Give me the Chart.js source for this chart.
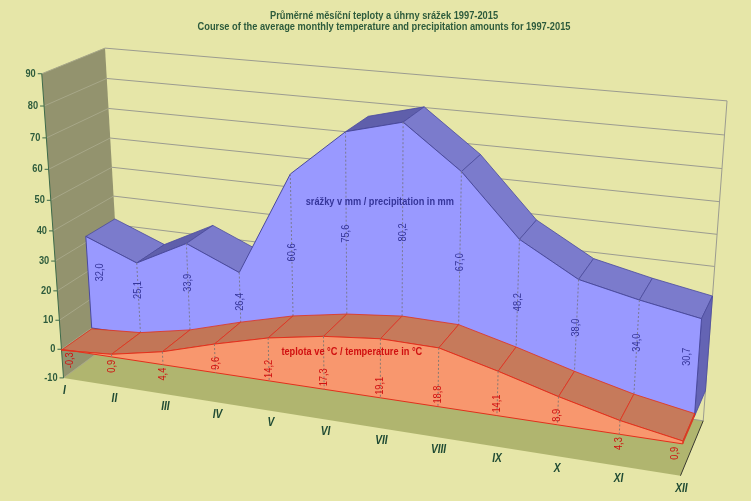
<!DOCTYPE html>
<html><head><meta charset="utf-8">
<script src="https://cdn.jsdelivr.net/npm/chart.js@4.4.1/dist/chart.umd.min.js"></script>
<style>html,body{margin:0;padding:0;background:#e6e6a8;}canvas{display:block;}</style>
</head><body>
<canvas id="c" width="751" height="501"></canvas>
<script>
const months = ['I','II','III','IV','V','VI','VII','VIII','IX','X','XI','XII'];
const precipitation = [32.0,25.1,33.9,26.4,60.6,75.6,80.2,67.0,48.2,38.0,34.0,30.7];
const temperature = [-0.3,0.9,4.4,9.6,14.2,17.3,19.1,18.8,14.1,8.9,4.3,0.9];
const yTicks = [-10,0,10,20,30,40,50,60,70,80,90];
const titleLines = ['Průměrné měsíční teploty a úhrny srážek 1997-2015','Course of the average monthly temperature and precipitation amounts for 1997-2015'];
const precipName = 'srážky v mm / precipitation in mm';
const tempName = 'teplota ve °C / temperature in °C';

// 3x4 perspective camera: world (month index, value/10, depth) -> screen
const CAMERA = [48.96757,-2.462894,33.23270,61.47735, 3.723203,-31.09326,-10.47622,349.2570, -0.01099490,-0.006504720,0.03293327];
function proj(X,Y,Z){ const P=CAMERA, y=Y/10, w=P[8]*X+P[9]*y+P[10]*Z+1;
  return [(P[0]*X+P[1]*y+P[2]*Z+P[3])/w,(P[4]*X+P[5]*y+P[6]*Z+P[7])/w]; }

const FS = '"Liberation Sans",Arial,sans-serif';
const fmt = v => v.toFixed(1).replace('.',',');

const bg = {id:'bg', beforeDraw(c){const x=c.ctx; x.save(); x.fillStyle='#e6e6a8'; x.fillRect(0,0,c.width,c.height); x.restore();}};

const three = {id:'three', beforeDatasetsDraw(chart){
  const ctx=chart.ctx, xs=chart.scales.x, ys=chart.scales.y, n=months.length-1;
  const W=(i,v,z)=>{ const X=(xs.getPixelForValue(i)-xs.left)/(xs.right-xs.left)*n;
    const Y=ys.min+(ys.bottom-ys.getPixelForValue(v))/(ys.bottom-ys.top)*(ys.max-ys.min); return proj(X,Y,z); };
  const poly=(pts,fill,stroke,lw)=>{ ctx.beginPath(); pts.forEach((p,k)=>k?ctx.lineTo(p[0],p[1]):ctx.moveTo(p[0],p[1])); ctx.closePath();
    if(fill){ctx.fillStyle=fill; ctx.fill();} if(stroke){ctx.strokeStyle=stroke; ctx.lineWidth=lw||1; ctx.stroke();} };
  const line=(a,b,col,lw,dash)=>{ ctx.beginPath(); ctx.setLineDash(dash||[]); ctx.moveTo(a[0],a[1]); ctx.lineTo(b[0],b[1]); ctx.strokeStyle=col; ctx.lineWidth=lw||1; ctx.stroke(); ctx.setLineDash([]); };
  const text=(s,x,y,font,col,align,rot,sx)=>{ ctx.save(); ctx.translate(x,y); if(rot) ctx.rotate(rot); ctx.scale(sx,1);
    ctx.font=font; ctx.fillStyle=col; ctx.textAlign=align; ctx.textBaseline='middle'; ctx.fillText(s,0,0); ctx.restore(); };
  const tw=(s,font,sx)=>{ ctx.save(); ctx.font=font; const w=ctx.measureText(s).width*sx; ctx.restore(); return w; };
  const yMin=ys.min, yMax=ys.max;
  ctx.save();
  // title
  const tf='bold 10px '+FS; const tsx=373/tw(titleLines[1],tf,1);
  text(titleLines[0],384,16,tf,'#2d5b3c','center',0,tsx);
  text(titleLines[1],384,27.5,tf,'#2d5b3c','center',0,tsx);
  // floor
  poly([W(0,yMin,0),W(n,yMin,0),W(n,yMin,2),W(0,yMin,2)],'#b0b56f');
  // side wall
  poly([W(0,yMin,0),W(0,yMax,0),W(0,yMax,2),W(0,yMin,2)],'#93936e');
  // gridlines
  yTicks.forEach(t=>{ line(W(0,t,0),W(0,t,2),'#a7a788',1); line(W(0,t,2),W(n,t,2),'#9c9c90',1); });
  line(W(n,yMin,2),W(n,yMax,2),'#9c9c90',1);
  line(W(n,yMin,0),W(n,yMin,2),'#3a3a30',1);
  // axis
  line(W(0,yMin,0),W(0,yMax,0),'#3d6a4a',1);
  yTicks.forEach(t=>{ const p=W(0,t,0); line([p[0]-4,p[1]],p,'#3d6a4a',1); text(String(t),p[0]-6,p[1],'bold 11px '+FS,'#2d5b3c','right',0,0.84); });
  function series(vals,z0,z1,cols){
    for(let i=0;i<n;i++){
      const A=W(i,vals[i],z0),B=W(i+1,vals[i+1],z0),C=W(i+1,vals[i+1],z1),D=W(i,vals[i],z1);
      const cr=(B[0]-A[0])*(D[1]-A[1])-(B[1]-A[1])*(D[0]-A[0]);
      if(cr<0) poly([A,B,C,D], vals[i+1]>vals[i]?cols.rise:cols.fall, cols.edge, 0.8);
    }
    poly([W(n,0,z0),W(n,vals[n],z0),W(n,vals[n],z1),W(n,0,z1)],cols.side,cols.edge,0.8);
    const f=[]; vals.forEach((v,i)=>f.push(W(i,v,z0))); for(let i=n;i>=0;i--) f.push(W(i,0,z0));
    poly(f,cols.front,cols.edge,1);
    for(let i=1;i<n;i++) line(W(i,vals[i],z0),W(i,0,z0),cols.drop,1,[2,2]);
  }
  // precipitation (back row)
  series(precipitation,1,2,{rise:'#5f5fab',fall:'#7b7bcc',side:'#6464b4',front:'#9999ff',edge:'#4a4a9e',drop:'#7a7a95'});
  const vf='11px '+FS, vsx=0.84;
  precipitation.forEach((v,i)=>{ const yl=2+0.55*v; const p=W(i,yl,1); const l=W(0,yl,1)[0]+12, r=W(n,yl,1)[0]-12;
    const x=Math.min(Math.max(p[0],l),r); text(fmt(v),x,p[1],vf,'#35359a','center',-Math.PI/2,vsx); });
  // temperature (front row)
  series(temperature,0,1,{rise:'#c27657',fall:'#c67a5b',side:'#b8553a',front:'#f8976e',edge:'#e2301c',drop:'#8a7a70'});
  temperature.forEach((v,i)=>{ const b=W(i,0,0), t=W(i,v,0); const L=tw(fmt(v),vf,vsx); const h=b[1]-t[1];
    const y = h>=L+6 ? b[1]-3-L/2 : b[1]+3+L/2; const l=W(0,0,0)[0]+8, r=W(n,0,0)[0]-8; const x=Math.min(Math.max(b[0],l),r);
    text(fmt(v),x,y,vf,'#d01010','center',-Math.PI/2,vsx); });
  // series names
  const pn=W(5.6,55,1); text(precipName,pn[0],pn[1],'bold 11px '+FS,'#35359a','center',0,0.84);
  const tn=W(5.5,13.5,0); text(tempName,tn[0],tn[1],'bold 11px '+FS,'#d01010','center',0,0.84);
  // month labels
  months.forEach((m,i)=>{ const p=W(i,yMin,0); text(m,p[0]+1,p[1]+12.5,'italic bold 12px '+FS,'#1f4a33','center',0,0.85); });
  ctx.restore();
  return false;
}};

new Chart(document.getElementById('c'),{
  type:'line',
  data:{labels:months,datasets:[{label:precipName,data:precipitation},{label:tempName,data:temperature}]},
  options:{responsive:false,animation:false,devicePixelRatio:1,
    plugins:{legend:{display:false},tooltip:{enabled:false},title:{display:false}},
    scales:{x:{type:'category',display:false,offset:false},y:{type:'linear',display:false,min:-10,max:90}}},
  plugins:[bg,three]
});
</script>
</body></html>
